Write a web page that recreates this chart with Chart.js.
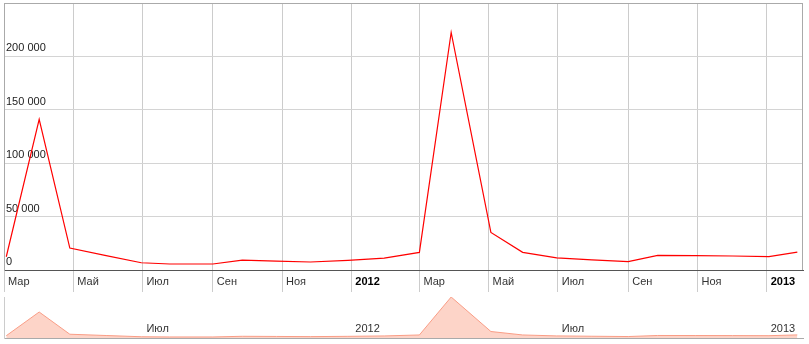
<!DOCTYPE html>
<html>
<head>
<meta charset="utf-8">
<script src="https://cdn.jsdelivr.net/npm/chart.js@4.4.1/dist/chart.umd.min.js"></script>
<style>
  body { margin: 0; background: #fff; }
  #wrap { position: relative; width: 809px; height: 344px; }
  canvas { position: absolute; left: 0; }
</style>
</head>
<body>
<div id="wrap">
  <canvas id="mainChart" width="809" height="293" style="top:0"></canvas>
  <canvas id="navChart" width="809" height="47" style="top:293px"></canvas>
</div>
<script>
// data
const dates = [
  '2011-03-03', '2011-04-01', '2011-04-28', '2011-05-30', '2011-06-30', '2011-07-25',
  '2011-09-01', '2011-09-27', '2011-10-27', '2011-11-26', '2011-12-29', '2012-01-30',
  '2012-03-01', '2012-03-29', '2012-05-03', '2012-05-31', '2012-06-30', '2012-07-31',
  '2012-09-01', '2012-09-27', '2012-10-30', '2012-12-02', '2013-01-03', '2013-01-28'
];
const values = [
  12400, 141000, 20500, 13500, 6800, 5600,
  5600, 9300, 8400, 7500, 9000, 11200,
  16500, 222400, 35200, 16500, 11400, 9500,
  7900, 13700, 13400, 13100, 12600, 16800
];
const xRange = ['2011-03-01', '2013-02-02'];
const tickDates = [
  '2011-03-01', '2011-05-01', '2011-07-01', '2011-09-01', '2011-11-01', '2012-01-01',
  '2012-03-01', '2012-05-01', '2012-07-01', '2012-09-01', '2012-11-01', '2013-01-01'
];
const tickLabels = ['Мар', 'Май', 'Июл', 'Сен', 'Ноя', '2012', 'Мар', 'Май', 'Июл', 'Сен', 'Ноя', '2013'];
const navTickDates = ['2011-07-01', '2012-01-01', '2012-07-01', '2013-01-01'];
const navTickLabels = ['Июл', '2012', 'Июл', '2013'];
const yTicks = [0, 50000, 100000, 150000, 200000, 250000];

const FONT = '"Liberation Sans", Arial, sans-serif';
Chart.defaults.font.family = FONT;
Chart.defaults.font.size = 11;

// days since the first date of the range
function dayNum(s) {
  const p = s.split('-').map(Number);
  const o = xRange[0].split('-').map(Number);
  return (Date.UTC(p[0], p[1] - 1, p[2]) - Date.UTC(o[0], o[1] - 1, o[2])) / 86400000;
}

function fmt(v) {
  return String(v).replace(/\B(?=(\d{3})+(?!\d))/g, ' ');
}

const isYear = s => /^\d{4}$/.test(s || '');
const points = dates.map((d, i) => ({ x: dayNum(d), y: values[i] }));
const yMax = yTicks[yTicks.length - 1];

// right border of the plot
const rightBorder = {
    id: 'rightBorder',
    afterDatasetsDraw(chart) {
        const { ctx, chartArea: a } = chart;
        ctx.save();
        ctx.strokeStyle = '#aaaaaa';
        ctx.lineWidth = 1;
        ctx.beginPath();
        ctx.moveTo(Math.round(a.right) - 0.5, a.top);
        ctx.lineTo(Math.round(a.right) - 0.5, a.bottom);
        ctx.stroke();
        ctx.restore();
    }
};

new Chart(document.getElementById('mainChart'), {
    type: 'line',
    data: {
        datasets: [{
            data: points,
            borderColor: '#ff0000',
            borderWidth: 1.2,
            pointRadius: 0,
            tension: 0,
            fill: false
        }]
    },
    options: {
        responsive: false,
        animation: false,
        layout: { padding: { top: 3, left: 4, right: 6, bottom: 0 } },
        plugins: { legend: { display: false }, tooltip: { enabled: false } },
        scales: {
            x: {
                type: 'linear',
                min: dayNum(xRange[0]),
                max: dayNum(xRange[1]),
                afterBuildTicks: s => { s.ticks = tickDates.map(d => ({ value: dayNum(d) })); },
                afterFit: s => { s.paddingLeft = 0; s.paddingRight = 0; s.height = 23; },
                grid: { color: '#cccccc', tickColor: '#cccccc', tickLength: 22, drawTicks: true },
                border: { display: true, color: '#555555', width: 1 },
                ticks: {
                    align: 'start',
                    labelOffset: 4,
                    padding: -17,
                    maxRotation: 0,
                    autoSkip: false,
                    color: c => isYear(c.tick && c.tick.label) ? '#000' : '#333',
                    font: c => ({ family: FONT, size: 11, weight: isYear(c.tick && c.tick.label) ? 'bold' : 'normal' }),
                    callback: (v, i) => tickLabels[i]
                }
            },
            y: {
                min: 0,
                max: yMax,
                afterBuildTicks: s => { s.ticks = yTicks.map(v => ({ value: v })); },
                afterFit: s => { s.paddingTop = 0; s.paddingBottom = 0; s.width = 0; },
                grid: {
                    color: c => (c.tick && c.tick.value === yMax) ? '#aaaaaa' : '#d4d4d4',
                    drawTicks: false
                },
                border: { display: true, color: '#aaaaaa' },
                ticks: {
                    mirror: true,
                    padding: 2,
                    labelOffset: -8,
                    color: '#222',
                    callback: v => v === yMax ? '' : fmt(v)
                }
            }
        }
    },
    plugins: [rightBorder]
});

// small overview chart below
new Chart(document.getElementById('navChart'), {
    type: 'line',
    data: {
        datasets: [{
            data: points,
            borderColor: '#f99d86',
            backgroundColor: '#fdd4c8',
            borderWidth: 1,
            pointRadius: 0,
            tension: 0,
            fill: 'origin'
        }]
    },
    options: {
        responsive: false,
        animation: false,
        layout: { padding: { top: 4, left: 4, right: 6, bottom: 0 } },
        plugins: { legend: { display: false }, tooltip: { enabled: false } },
        scales: {
            x: {
                type: 'linear',
                min: dayNum(xRange[0]),
                max: dayNum(xRange[1]),
                afterBuildTicks: s => { s.ticks = navTickDates.map(d => ({ value: dayNum(d) })); },
                afterFit: s => { s.paddingLeft = 0; s.paddingRight = 0; s.height = 2; },
                grid: { display: false, drawTicks: false },
                border: { display: true, color: '#aaaaaa' },
                ticks: {
                    z: 1,
                    mirror: true,
                    align: 'start',
                    labelOffset: 4,
                    padding: 2,
                    maxRotation: 0,
                    autoSkip: false,
                    color: '#333',
                    callback: (v, i) => navTickLabels[i]
                }
            },
            y: {
                min: 0,
                max: Math.max(...values),
                afterFit: s => { s.paddingTop = 0; s.paddingBottom = 0; s.width = 0; },
                grid: { display: false, drawTicks: false },
                border: { display: true, color: '#cccccc' },
                ticks: { display: false }
            }
        }
    }
});
</script>
</body>
</html>
